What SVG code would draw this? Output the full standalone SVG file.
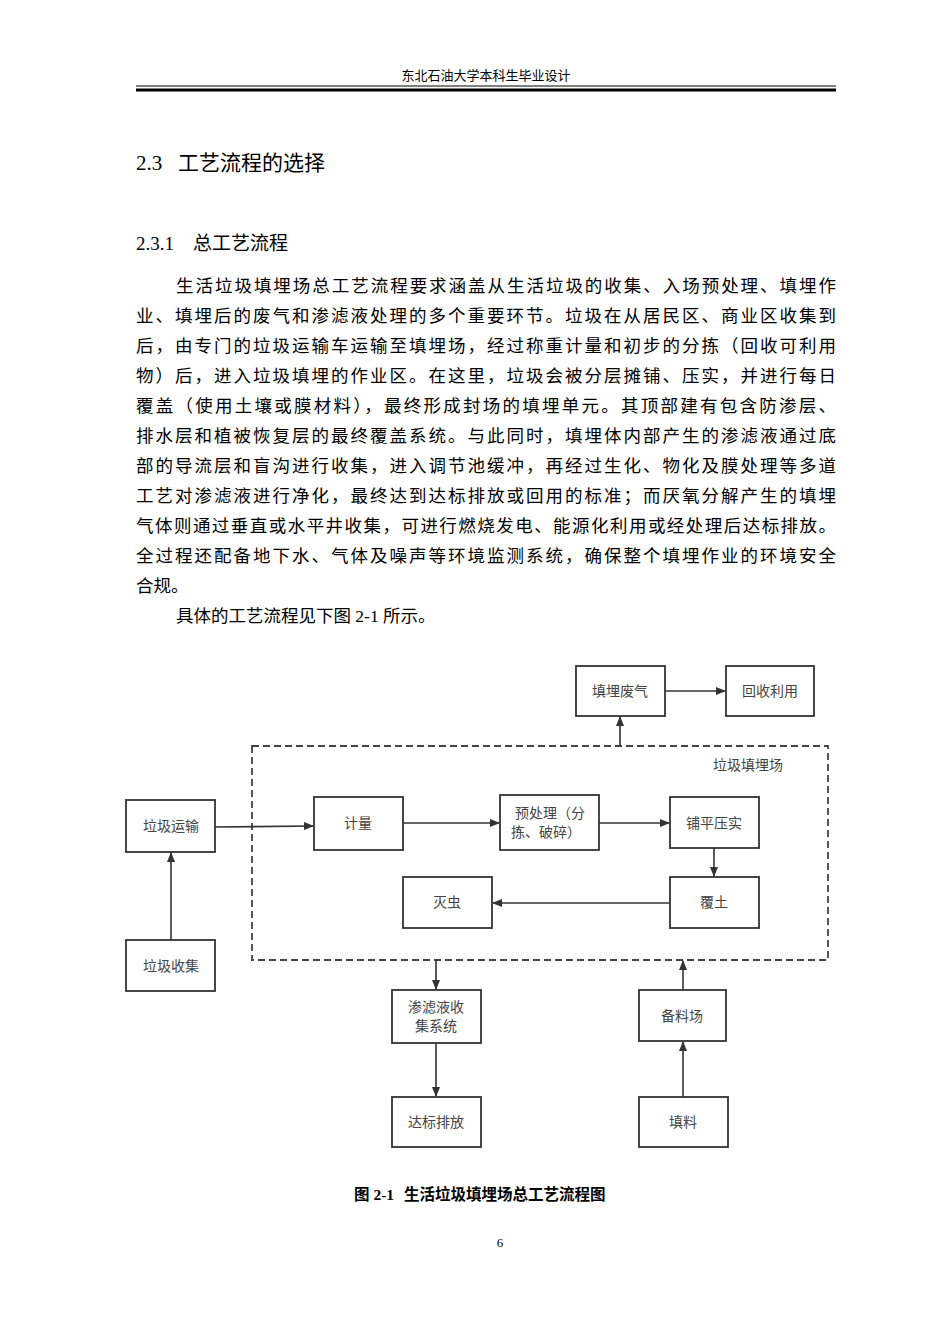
<svg xmlns="http://www.w3.org/2000/svg" width="950" height="1344" viewBox="0 0 950 1344">
<style>
.t{font-family:"Liberation Serif","Noto Sans CJK SC",serif;fill:#000}
.b{font-size:17.5px}
.n rect{fill:#fff;stroke:#333;stroke-width:1.8}
.n text{font-family:"Liberation Serif","Noto Sans CJK SC",serif;font-size:14px;fill:#444;text-anchor:middle}
.c line,.c path{stroke:#333;stroke-width:1.6;fill:none}
</style>
<defs><marker id="a" markerWidth="10" markerHeight="8" refX="9" refY="4" orient="auto" markerUnits="userSpaceOnUse"><path d="M0,0L10,4L0,8z" fill="#333"/></marker></defs>
<rect width="950" height="1344" fill="#fff"/>
<text class="t" x="486" y="80" font-size="13" text-anchor="middle">东北石油大学本科生毕业设计</text>
<line x1="136" y1="86" x2="836" y2="86" stroke="#000" stroke-width="1"/>
<line x1="136" y1="90" x2="836" y2="90" stroke="#000" stroke-width="3"/>
<text class="t" x="136" y="170" font-size="21">2.3<tspan x="178">工艺流程的选择</tspan></text>
<text class="t" x="136" y="250" font-size="19">2.3.1<tspan x="193">总工艺流程</tspan></text>
<g class="t b">
<text x="176" y="292" textLength="660" lengthAdjust="spacing">生活垃圾填埋场总工艺流程要求涵盖从生活垃圾的收集、入场预处理、填埋作</text>
<text x="136" y="322" textLength="700" lengthAdjust="spacing">业、填埋后的废气和渗滤液处理的多个重要环节。垃圾在从居民区、商业区收集到</text>
<text x="136" y="352" textLength="700" lengthAdjust="spacing">后，由专门的垃圾运输车运输至填埋场，经过称重计量和初步的分拣（回收可利用</text>
<text x="136" y="382" textLength="700" lengthAdjust="spacing">物）后，进入垃圾填埋的作业区。在这里，垃圾会被分层摊铺、压实，并进行每日</text>
<text x="136" y="412" textLength="700" lengthAdjust="spacing">覆盖（使用土壤或膜材料），最终形成封场的填埋单元。其顶部建有包含防渗层、</text>
<text x="136" y="442" textLength="700" lengthAdjust="spacing">排水层和植被恢复层的最终覆盖系统。与此同时，填埋体内部产生的渗滤液通过底</text>
<text x="136" y="472" textLength="700" lengthAdjust="spacing">部的导流层和盲沟进行收集，进入调节池缓冲，再经过生化、物化及膜处理等多道</text>
<text x="136" y="502" textLength="700" lengthAdjust="spacing">工艺对渗滤液进行净化，最终达到达标排放或回用的标准；而厌氧分解产生的填埋</text>
<text x="136" y="532" textLength="700" lengthAdjust="spacing">气体则通过垂直或水平井收集，可进行燃烧发电、能源化利用或经处理后达标排放。</text>
<text x="136" y="562" textLength="700" lengthAdjust="spacing">全过程还配备地下水、气体及噪声等环境监测系统，确保整个填埋作业的环境安全</text>
<text x="136" y="592">合规。</text>
<text x="176" y="622">具体的工艺流程见下图 2-1 所示。</text>
</g>
<rect x="252" y="746" width="576" height="214" fill="none" stroke="#444" stroke-width="1.8" stroke-dasharray="7,4"/>
<text x="748" y="770" font-family="Liberation Serif,Noto Sans CJK SC,serif" font-size="14" fill="#444" text-anchor="middle">垃圾填埋场</text>
<g id="n1" class="n"><rect x="576" y="666" width="89" height="50"/><text x="620" y="696">填埋废气</text></g>
<g id="n2" class="n"><rect x="726" y="666" width="88" height="50"/><text x="770" y="696">回收利用</text></g>
<g id="n3" class="n"><rect x="126" y="800" width="89" height="52"/><text x="171" y="831">垃圾运输</text></g>
<g id="n4" class="n"><rect x="314" y="797" width="89" height="53"/><text x="358" y="828">计量</text></g>
<g id="n5" class="n"><rect x="500" y="795" width="99" height="55"/><text x="550" y="818">预处理（分</text><text x="546" y="837">拣、破碎）</text></g>
<g id="n6" class="n"><rect x="670" y="797" width="89" height="51"/><text x="714" y="828">铺平压实</text></g>
<g id="n7" class="n"><rect x="670" y="877" width="89" height="51"/><text x="714" y="907">覆土</text></g>
<g id="n8" class="n"><rect x="403" y="877" width="89" height="51"/><text x="447" y="907">灭虫</text></g>
<g id="n9" class="n"><rect x="126" y="940" width="89" height="51"/><text x="171" y="971">垃圾收集</text></g>
<g id="n10" class="n"><rect x="392" y="990" width="89" height="53"/><text x="436" y="1012">渗滤液收</text><text x="436" y="1031">集系统</text></g>
<g id="n11" class="n"><rect x="639" y="990" width="87" height="51"/><text x="682" y="1021">备料场</text></g>
<g id="n12" class="n"><rect x="392" y="1097" width="89" height="50"/><text x="436" y="1127">达标排放</text></g>
<g id="n13" class="n"><rect x="639" y="1097" width="89" height="50"/><text x="683" y="1127">填料</text></g>
<g class="c">
<line x1="620" y1="746" x2="620" y2="717" marker-end="url(#a)"/>
<line x1="665" y1="691" x2="725" y2="691" marker-end="url(#a)"/>
<line x1="215" y1="827" x2="313" y2="826" marker-end="url(#a)"/>
<line x1="403" y1="823" x2="499" y2="823" marker-end="url(#a)"/>
<line x1="599" y1="823" x2="669" y2="823" marker-end="url(#a)"/>
<line x1="714" y1="848" x2="714" y2="876" marker-end="url(#a)"/>
<line x1="670" y1="903" x2="493" y2="903" marker-end="url(#a)"/>
<line x1="171" y1="940" x2="171" y2="853" marker-end="url(#a)"/>
<line x1="436" y1="960" x2="436" y2="989" marker-end="url(#a)"/>
<line x1="436" y1="1043" x2="436" y2="1096" marker-end="url(#a)"/>
<line x1="683" y1="1097" x2="683" y2="1042" marker-end="url(#a)"/>
<line x1="683" y1="990" x2="683" y2="961" marker-end="url(#a)"/>
</g>
<text class="t" x="354" y="1200" font-size="15.5" font-weight="bold">图 2-1<tspan x="404">生活垃圾填埋场总工艺流程图</tspan></text>
<text class="t" x="500" y="1247" font-size="13" text-anchor="middle">6</text>
</svg>
